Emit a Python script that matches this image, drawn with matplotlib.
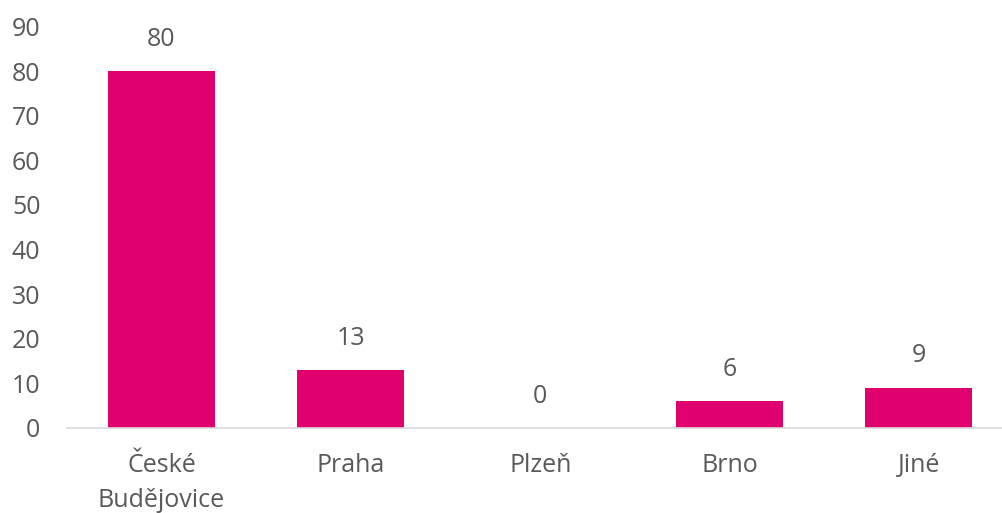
import matplotlib.pyplot as plt

# Data
mesta = ["České\nBudějovice", "Praha", "Plzeň", "Brno", "Jiné"]
pocty = [80, 13, 0, 6, 9]
y_ticky = [0, 10, 20, 30, 40, 50, 60, 70, 80, 90]

barva = "#E0006E"
seda = "#595959"

plt.rcParams['font.family'] = ['Open Sans', 'DejaVu Sans']

fig = plt.figure(figsize=(10.03, 5.13), dpi=100)
ax = fig.add_axes([0.0666, 0.1657, 0.944, 0.7828])

x = list(range(len(mesta)))
ax.bar(x, pocty, width=0.565, color=barva)

for xi, v in zip(x, pocty):
    ax.annotate(str(v), (xi, v), xytext=(0, 23), textcoords="offset points",
                ha="center", va="center", fontsize=18, color=seda)

ax.set_xlim(-0.5, 4.5)
ax.set_ylim(0, 90)
ax.set_yticks(y_ticky)
ax.set_xticks(x)
ax.set_xticklabels(mesta, linespacing=1.55)
ax.tick_params(axis="y", length=0, pad=19, labelsize=18, labelcolor=seda)
ax.tick_params(axis="x", length=0, pad=18, labelsize=18, labelcolor=seda)
for lbl in ax.get_yticklabels():
    lbl.set_ha("right")

for s in ["top", "right", "left"]:
    ax.spines[s].set_visible(False)
ax.spines["bottom"].set_color("#D9D9D9")
ax.spines["bottom"].set_linewidth(1.2)

fig.savefig("out.png", dpi=100)
